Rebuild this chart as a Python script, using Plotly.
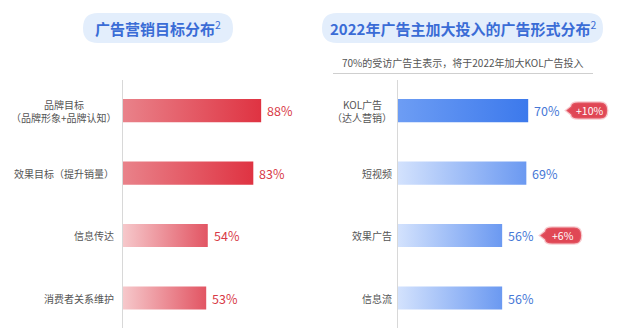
import plotly.graph_objects as go

W, H = 640, 334
FONT = "Noto Sans CJK SC"

# ---------------- data ----------------
left_title = "广告营销目标分布"
right_title = "2022年广告主加大投入的广告形式分布"
right_subtitle = "70%的受访广告主表示，将于2022年加大KOL广告投入"

left_categories = ["品牌目标<br>（品牌形象+品牌认知）", "效果目标（提升销量）", "信息传达", "消费者关系维护"]
left_values = [88, 83, 54, 53]

right_categories = ["KOL广告<br>（达人营销）", "短视频", "效果广告", "信息流"]
right_values = [70, 69, 56, 56]
right_badges = ["+10%", "", "+6%", ""]

# ---------------- styles ----------------
left_grad = [("#e9828a", "#df3342"), ("#e9828a", "#df3342"),
             ("#f6c8cb", "#e25563"), ("#f6c8cb", "#e25563")]
right_grad = [("#6d9df4", "#3c79ec"), ("#d3e2fd", "#6b99f1"),
              ("#d3e2fd", "#6b99f1"), ("#d3e2fd", "#6b99f1")]
left_val_color = "#d83a46"
right_val_color = "#4677d6"
label_color = "#555555"
BAR_HALF = 0.185
LINE_GAP = 13  # px between lines of two-line category labels


def px_x(p):
    return p / W


def px_y(p):
    return 1 - p / H


def rounded_rect_paper(x0, y0, x1, y1, r):
    def P(x, y):
        return f"{px_x(x):.5f},{px_y(y):.5f}"
    return (f"M {P(x0 + r, y0)} L {P(x1 - r, y0)} Q {P(x1, y0)} {P(x1, y0 + r)} "
            f"L {P(x1, y1 - r)} Q {P(x1, y1)} {P(x1 - r, y1)} "
            f"L {P(x0 + r, y1)} Q {P(x0, y1)} {P(x0, y1 - r)} "
            f"L {P(x0, y0 + r)} Q {P(x0, y0)} {P(x0 + r, y0)} Z")


fig = go.Figure()
annotations = []
shapes = []


def add_panel(cats, vals, grads, val_color, xr, yr, label_shift, multi_centre_shift):
    for i, (c, v) in enumerate(zip(cats, vals)):
        c0, c1 = grads[i]
        fig.add_trace(go.Scatter(
            x=[0, v, v, 0, 0],
            y=[i - BAR_HALF, i - BAR_HALF, i + BAR_HALF, i + BAR_HALF, i - BAR_HALF],
            mode="lines", line=dict(width=0), fill="toself",
            fillgradient=dict(type="horizontal", colorscale=[[0, c0], [1, c1]]),
            xaxis=xr, yaxis=yr, hoverinfo="skip", showlegend=False))
        annotations.append(dict(
            x=v, y=i, xref=xr, yref=yr, xanchor="left", yanchor="middle",
            xshift=4, text=f"{v}%", showarrow=False,
            font=dict(family=FONT, size=12.5, color=val_color)))
        lines = c.split("<br>")
        n = len(lines)
        if n == 1:
            annotations.append(dict(
                x=0, y=i, xref=xr, yref=yr, xanchor="right", yanchor="middle",
                xshift=label_shift, text=c, showarrow=False, borderpad=0,
                font=dict(family=FONT, size=10, color=label_color)))
        else:
            for k, ln in enumerate(lines):
                annotations.append(dict(
                    x=0, y=i, xref=xr, yref=yr, xanchor="center", yanchor="middle",
                    xshift=multi_centre_shift, yshift=((n - 1) / 2 - k) * LINE_GAP,
                    text=ln, showarrow=False, borderpad=0,
                    font=dict(family=FONT, size=10, color=label_color)))


add_panel(left_categories, left_values, left_grad, left_val_color, "x", "y", -8, -59)
add_panel(right_categories, right_values, right_grad, right_val_color, "x2", "y2", -5, -36)

# badges
badge_path = ("M 38 0 L 43 -4 Q 43 -8 50 -8 L 72 -8 Q 79 -8 79 0 "
              "Q 79 8 72 8 L 50 8 Q 43 8 43 4 Z")
for i, (v, b) in enumerate(zip(right_values, right_badges)):
    if not b:
        continue
    shapes.append(dict(type="path", xref="x2", yref="y2", xsizemode="pixel",
                       ysizemode="pixel", xanchor=v, yanchor=i, path=badge_path,
                       fillcolor="#e04755", line=dict(color="rgba(232,110,120,0.35)", width=2.5),
                       layer="above"))
    annotations.append(dict(x=v, y=i, xref="x2", yref="y2", xanchor="center",
                            yanchor="middle", xshift=61, text=b, showarrow=False,
                            font=dict(family=FONT, size=10.5, color="white")))

# title pills
shapes.append(dict(type="path", xref="paper", yref="paper",
                   path=rounded_rect_paper(83, 13, 233, 43, 15),
                   fillcolor="#e3eefc", line=dict(width=0), layer="below"))
shapes.append(dict(type="path", xref="paper", yref="paper",
                   path=rounded_rect_paper(322, 13, 603, 43, 15),
                   fillcolor="#e3eefc", line=dict(width=0), layer="below"))
annotations.append(dict(x=px_x(158), y=px_y(28.5), xref="paper", yref="paper",
                        xanchor="center", yanchor="middle", showarrow=False,
                        text=f"<b>{left_title}</b><sup>2</sup>",
                        font=dict(family=FONT, size=15, color="#3a6cd6")))
annotations.append(dict(x=px_x(462.5), y=px_y(28.5), xref="paper", yref="paper",
                        xanchor="center", yanchor="middle", showarrow=False,
                        text=f"<b>{right_title}</b><sup>2</sup>",
                        font=dict(family=FONT, size=15, color="#3a6cd6")))
# subtitle + rule
annotations.append(dict(x=px_x(463), y=px_y(62.5), xref="paper", yref="paper",
                        xanchor="center", yanchor="middle", showarrow=False,
                        text=right_subtitle,
                        font=dict(family=FONT, size=10, color="#555555")))
shapes.append(dict(type="line", xref="paper", yref="paper",
                   x0=px_x(333), x1=px_x(593), y0=px_y(73.5), y1=px_y(73.5),
                   line=dict(color="#cfcfcf", width=1)))

ydom = [6 / H, (H - 80) / H]
yrange = [3.48, -0.49]
axis_common = dict(showgrid=False, zeroline=False, showticklabels=False, ticks="")

# pixels per percent: left 1.57, right 1.86
left_x0, left_ppu = 123, 1.57
right_x0, right_ppu = 398, 1.86
left_x1 = 300
right_x1 = 640

fig.update_layout(
    width=W, height=H, margin=dict(l=0, r=0, t=0, b=0),
    paper_bgcolor="white", plot_bgcolor="rgba(0,0,0,0)",
    showlegend=False,
    xaxis=dict(domain=[left_x0 / W, left_x1 / W],
               range=[0, (left_x1 - left_x0) / left_ppu], anchor="y", **axis_common),
    yaxis=dict(domain=ydom, range=yrange, anchor="x", showline=True,
               linecolor="#d8d8d8", linewidth=1, **axis_common),
    xaxis2=dict(domain=[right_x0 / W, right_x1 / W],
                range=[0, (right_x1 - right_x0) / right_ppu], anchor="y2", **axis_common),
    yaxis2=dict(domain=ydom, range=yrange, anchor="x2", showline=True,
                linecolor="#d8d8d8", linewidth=1, **axis_common),
    annotations=annotations, shapes=shapes,
)

fig.write_html("out.html")
